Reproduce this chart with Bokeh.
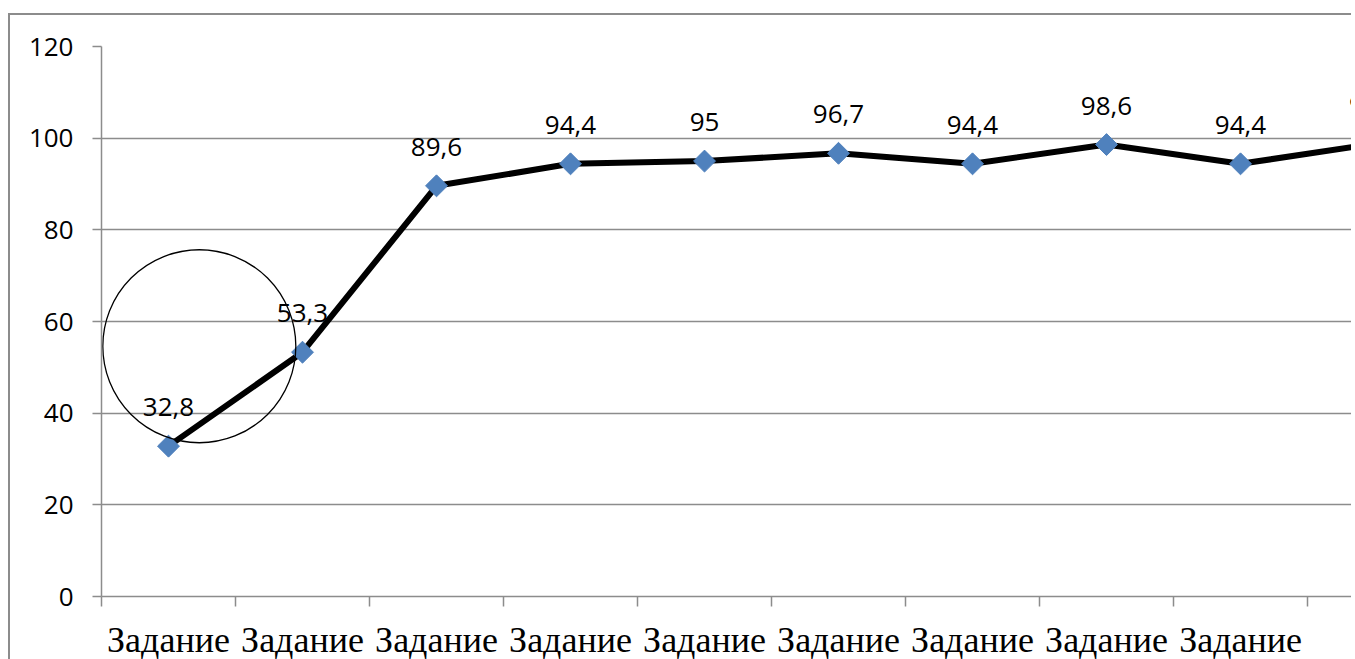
import math
from bokeh.plotting import figure
from bokeh.models import Range1d, FixedTicker, ColumnDataSource
from bokeh.core.properties import value
from bokeh.embed import file_html
from bokeh.resources import INLINE

# ---- data ----
category_label = "Задание"
task_numbers = [1, 2, 3, 4, 5, 6, 7, 8, 9, 10]
scores = [32.8, 53.3, 89.6, 94.4, 95.0, 96.7, 94.4, 98.6, 94.4, 98.8]
score_labels = ["32,8", "53,3", "89,6", "94,4", "95", "96,7", "94,4", "98,6", "94,4", "98,8"]
y_ticks = [0, 20, 40, 60, 80, 100, 120]
category_bounds = [n - 0.5 for n in task_numbers]

# highlight circle (annotation around first two tasks)
circle_x = [1.23]
circle_y = [54.6]

GREY = "#8c8c8c"
BLUE = "#4F81BD"

src = ColumnDataSource(dict(x=task_numbers, y=scores, label=score_labels))

p = figure(
    width=1343, height=647,
    x_range=Range1d(0.5, 9.843), y_range=Range1d(0, 120),
    output_backend="svg", toolbar_location=None,
    min_border_left=91, min_border_top=31, min_border_right=0, min_border_bottom=64,
    background_fill_color="white", border_fill_color="white",
)
p.outline_line_color = None
p.styles = {
    "border-left": "2px solid " + GREY,
    "border-top": "2px solid " + GREY,
    "margin-left": "8px",
    "margin-top": "13px",
    "margin-bottom": "-8px",
}

# y axis
ya = p.yaxis[0]
ya.ticker = FixedTicker(ticks=y_ticks)
ya.axis_line_color = GREY
ya.axis_line_width = 1.5
ya.major_tick_line_color = GREY
ya.major_tick_line_width = 1.5
ya.major_tick_out = 9
ya.major_tick_in = 0
ya.minor_tick_line_color = None
ya.major_label_standoff = 19
ya.major_label_text_font = "Open Sans"
ya.major_label_text_font_size = "26px"
ya.major_label_text_color = "black"

# x axis: labels at category centres, tick marks at category boundaries
xa = p.xaxis[0]
xa.ticker = FixedTicker(ticks=task_numbers, minor_ticks=category_bounds)
xa.major_label_overrides = {n: category_label for n in task_numbers}
xa.axis_line_color = GREY
xa.axis_line_width = 1.5
xa.major_tick_line_color = None
xa.major_tick_out = 10
xa.major_tick_in = 0
xa.minor_tick_line_color = GREY
xa.minor_tick_line_width = 1.5
xa.minor_tick_out = 10
xa.minor_tick_in = 0
xa.major_label_standoff = 13
xa.major_label_text_font = "Liberation Serif"
xa.major_label_text_font_size = "36px"
xa.major_label_text_color = "black"

p.xgrid.grid_line_color = None
p.ygrid.ticker = FixedTicker(ticks=y_ticks)
p.ygrid.grid_line_color = GREY
p.ygrid.grid_line_width = 1.5

p.line("x", "y", source=src, line_color="black", line_width=6)
p.scatter("x", "y", source=src, marker="square", angle=math.pi / 4, size=15.5,
          fill_color=BLUE, line_color=BLUE)
p.text("x", "y", text="label", source=src, text_align="center", text_baseline="alphabetic",
       y_offset=-39, text_font=value("Open Sans"), text_font_size="26px", text_color="black")

p.scatter(circle_x, circle_y, marker="circle", size=193, fill_color=None,
          line_color="black", line_width=1.3)

open("out.html", "w").write(file_html(p, INLINE))
